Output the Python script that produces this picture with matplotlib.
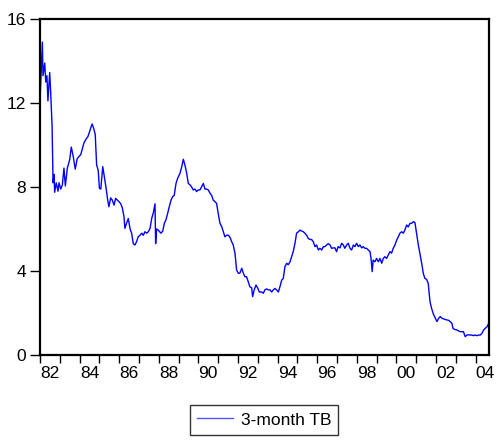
import matplotlib
matplotlib.use("Agg")
import matplotlib.pyplot as plt
from matplotlib.ticker import MultipleLocator, FixedLocator, FixedFormatter

plt.rcParams['font.family'] = ['Liberation Sans', 'DejaVu Sans']

# 3-month Treasury bill rate (percent), decimal-year dates
dates = [
    1982.00, 1982.12, 1982.15, 1982.24, 1982.29, 1982.35, 1982.40, 1982.49, 1982.54, 1982.61,
    1982.66, 1982.71, 1982.74, 1982.82, 1982.91, 1982.96, 1983.05, 1983.13, 1983.21, 1983.28,
    1983.38, 1983.50, 1983.58, 1983.67, 1983.78, 1983.88, 1984.06, 1984.22, 1984.34, 1984.42,
    1984.63, 1984.71, 1984.79, 1984.86, 1984.94, 1985.00, 1985.07, 1985.17, 1985.25, 1985.33,
    1985.42, 1985.48, 1985.57, 1985.65, 1985.74, 1985.82, 1985.90, 1985.99, 1986.08, 1986.16,
    1986.24, 1986.29, 1986.38, 1986.46, 1986.55, 1986.63, 1986.71, 1986.80, 1986.88, 1986.96,
    1987.05, 1987.14, 1987.22, 1987.30, 1987.39, 1987.47, 1987.56, 1987.64, 1987.72, 1987.81,
    1987.84, 1987.89, 1987.97, 1988.11, 1988.20, 1988.28, 1988.36, 1988.45, 1988.53, 1988.62,
    1988.70, 1988.78, 1988.87, 1988.95, 1989.07, 1989.16, 1989.24, 1989.32, 1989.41, 1989.49,
    1989.58, 1989.66, 1989.74, 1989.83, 1989.91, 1989.99, 1990.08, 1990.17, 1990.25, 1990.33,
    1990.42, 1990.50, 1990.59, 1990.67, 1990.75, 1990.92, 1991.00, 1991.09, 1991.18, 1991.26,
    1991.34, 1991.43, 1991.51, 1991.60, 1991.68, 1991.76, 1991.85, 1991.93, 1992.02, 1992.10,
    1992.19, 1992.27, 1992.35, 1992.43, 1992.52, 1992.60, 1992.69, 1992.74, 1992.82, 1992.91,
    1992.99, 1993.08, 1993.20, 1993.28, 1993.36, 1993.45, 1993.53, 1993.62, 1993.70, 1993.78,
    1993.87, 1993.95, 1994.04, 1994.12, 1994.21, 1994.29, 1994.37, 1994.46, 1994.54, 1994.63,
    1994.71, 1994.79, 1994.88, 1994.96, 1995.05, 1995.13, 1995.22, 1995.30, 1995.38, 1995.47,
    1995.55, 1995.64, 1995.72, 1995.80, 1995.89, 1995.97, 1996.06, 1996.14, 1996.23, 1996.31,
    1996.39, 1996.48, 1996.56, 1996.65, 1996.73, 1996.81, 1996.90, 1996.98, 1997.06, 1997.15,
    1997.24, 1997.32, 1997.40, 1997.49, 1997.57, 1997.66, 1997.74, 1997.83, 1997.91, 1997.99,
    1998.08, 1998.16, 1998.25, 1998.33, 1998.41, 1998.50, 1998.58, 1998.67, 1998.72, 1998.78,
    1998.83, 1998.92, 1999.00, 1999.09, 1999.17, 1999.26, 1999.34, 1999.42, 1999.51, 1999.59,
    1999.68, 1999.76, 1999.84, 1999.93, 2000.02, 2000.10, 2000.18, 2000.27, 2000.35, 2000.43,
    2000.52, 2000.60, 2000.69, 2000.77, 2000.86, 2000.94, 2001.02, 2001.11, 2001.19, 2001.28,
    2001.36, 2001.44, 2001.53, 2001.61, 2001.70, 2001.78, 2001.87, 2001.97, 2002.05, 2002.14,
    2002.22, 2002.30, 2002.39, 2002.47, 2002.56, 2002.64, 2002.72, 2002.81, 2002.86, 2002.94,
    2003.06, 2003.14, 2003.22, 2003.31, 2003.39, 2003.48, 2003.56, 2003.64, 2003.73, 2003.82,
    2003.90, 2003.98, 2004.07, 2004.15, 2004.24, 2004.32, 2004.41, 2004.49, 2004.58, 2004.66,
]
tb3 = [
    12.10, 14.90, 13.30, 13.90, 13.00, 13.30, 12.10, 13.45, 12.50, 10.90,
    8.20, 8.60, 7.75, 8.20, 7.80, 8.20, 7.90, 8.10, 8.90, 8.05,
    8.90, 9.30, 9.90, 9.50, 8.85, 9.35, 9.55, 10.10, 10.30, 10.40,
    11.00, 10.80, 10.50, 9.05, 8.80, 7.94, 7.90, 8.97, 8.50, 8.00,
    7.38, 7.06, 7.48, 7.38, 7.14, 7.46, 7.38, 7.30, 7.20, 7.00,
    6.60, 6.03, 6.30, 6.50, 6.00, 5.80, 5.30, 5.24, 5.40, 5.63,
    5.70, 5.80, 5.70, 5.87, 5.80, 5.87, 6.03, 6.50, 6.75, 7.20,
    5.30, 6.00, 5.95, 5.80, 5.90, 6.27, 6.43, 6.75, 7.06, 7.38,
    7.54, 7.60, 8.17, 8.41, 8.65, 8.97, 9.32, 9.05, 8.65, 8.17,
    8.10, 8.00, 7.86, 7.90, 7.78, 7.86, 7.86, 8.02, 8.17, 7.90,
    7.90, 7.86, 7.70, 7.60, 7.38, 7.22, 6.75, 6.27, 6.11, 5.87,
    5.63, 5.70, 5.71, 5.60, 5.40, 5.24, 4.84, 4.05, 3.89, 3.90,
    4.13, 3.90, 3.73, 3.73, 3.49, 3.25, 3.20, 2.78, 3.10, 3.33,
    3.20, 3.00, 3.00, 2.94, 3.10, 3.15, 3.10, 3.10, 3.00, 3.10,
    3.17, 3.10, 3.00, 3.25, 3.57, 3.65, 4.20, 4.37, 4.30, 4.44,
    4.68, 4.92, 5.32, 5.80, 5.87, 5.95, 5.90, 5.87, 5.80, 5.70,
    5.55, 5.50, 5.50, 5.40, 5.16, 5.24, 5.00, 5.08, 5.00, 5.16,
    5.16, 5.24, 5.30, 5.24, 5.08, 5.10, 5.10, 4.92, 5.16, 5.10,
    5.32, 5.24, 5.08, 5.24, 5.32, 5.08, 5.00, 5.24, 5.16, 5.32,
    5.16, 5.24, 5.10, 5.16, 5.08, 5.08, 5.00, 4.92, 4.60, 3.97,
    4.52, 4.44, 4.60, 4.44, 4.60, 4.37, 4.60, 4.68, 4.60, 4.76,
    4.92, 4.85, 5.08, 5.24, 5.48, 5.63, 5.80, 5.87, 5.80, 5.95,
    6.19, 6.10, 6.27, 6.27, 6.35, 6.30, 5.80, 5.24, 4.84, 4.37,
    3.89, 3.65, 3.60, 3.41, 2.54, 2.22, 1.95, 1.75, 1.59, 1.75,
    1.83, 1.75, 1.72, 1.69, 1.67, 1.65, 1.59, 1.50, 1.27, 1.22,
    1.19, 1.15, 1.11, 1.11, 1.11, 0.87, 0.95, 0.96, 0.95, 0.95,
    0.92, 0.95, 0.92, 0.95, 0.95, 1.03, 1.19, 1.27, 1.35, 1.50,
]

year_labels = ['82', '84', '86', '88', '90', '92', '94', '96', '98', '00', '02', '04']
label_years = [1982.5 + 2 * i for i in range(len(year_labels))]
y_ticks = [0, 4, 8, 12, 16]

W, H = 498, 441
FS = 12.5
fig = plt.figure(figsize=(W / 100, H / 100), dpi=100)
ax = fig.add_axes([40 / W, 1 - 355 / H, (489 - 40) / W, (355 - 19) / H])

line, = ax.plot(dates, tb3, color='#0000FF', linewidth=1.0, label='3-month TB')

ax.set_xlim(1982.0, 2004.68)
ax.set_ylim(0, 16)

# yearly tick marks, labels centred within even years
ax.xaxis.set_major_locator(MultipleLocator(1))
ax.xaxis.set_major_formatter(plt.NullFormatter())
ax.xaxis.set_minor_locator(FixedLocator(label_years))
ax.xaxis.set_minor_formatter(FixedFormatter(year_labels))
ax.tick_params(axis='x', which='major', direction='out', length=6, width=1, color='black')
ax.tick_params(axis='x', which='minor', length=0, pad=8, labelsize=FS)

ax.set_yticks(y_ticks)
ax.set_yticklabels([str(v) for v in y_ticks])
ax.tick_params(axis='y', direction='out', length=7, width=1, pad=3, labelsize=FS)

for s in ax.spines.values():
    s.set_linewidth(1.6)
    s.set_color('black')

leg = fig.legend(handles=[line], loc='center', bbox_to_anchor=(264 / W, 1 - 420 / H),
                 frameon=True, fancybox=False, shadow=False, fontsize=FS,
                 handlelength=2.1, handletextpad=0.45, borderpad=0.4,
                 borderaxespad=0, edgecolor='black')
leg.get_frame().set_linewidth(1.0)
leg.legend_handles[0].set_color('#5555FF')

fig.savefig('out.png', dpi=100)
